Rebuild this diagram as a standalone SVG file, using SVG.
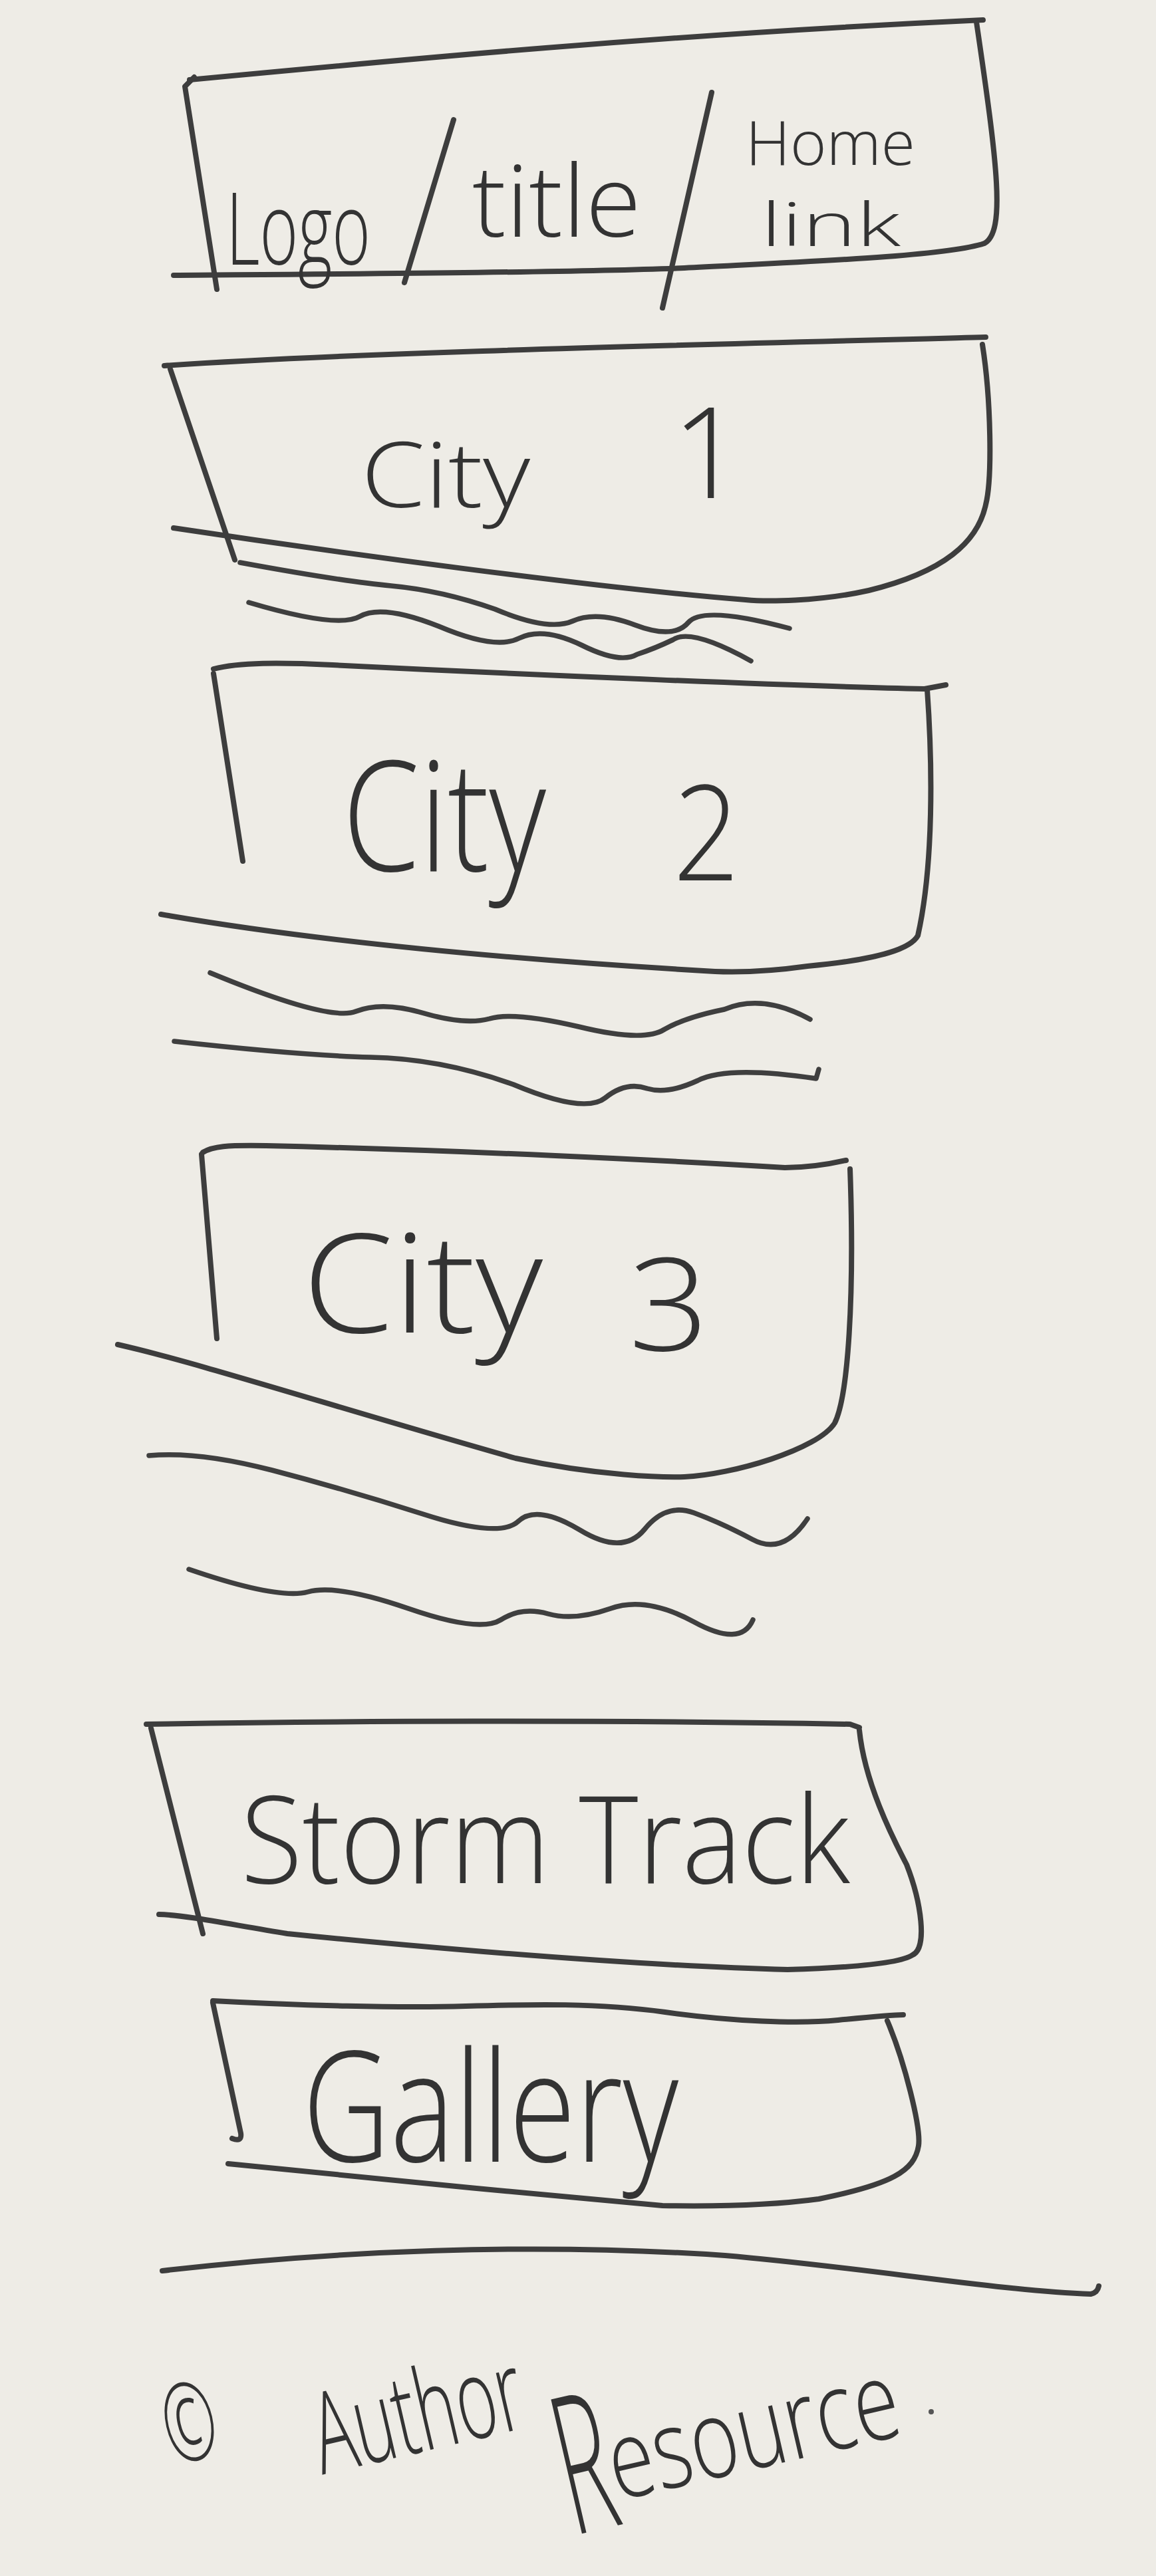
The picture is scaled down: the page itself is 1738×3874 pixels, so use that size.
<svg xmlns="http://www.w3.org/2000/svg" width="1738" height="3874" viewBox="0 0 1738 3874">
<style>
.ln{fill:none;stroke:#3d3d3d;stroke-width:8;stroke-linecap:round;stroke-linejoin:round}
.wv{fill:none;stroke:#3f3f3f;stroke-width:7.5;stroke-linecap:round;stroke-linejoin:round}
.tx{font-family:"Open Sans","Liberation Sans",sans-serif;font-weight:300;fill:#333333}
</style>
<rect x="0" y="0" width="1738" height="3874" fill="#eeece6"/>
<g id="header">
<path class="ln" d="M285,120 C600,90 1000,52 1478,30"/>
<path class="ln" d="M292,116 L278,130 L326,435"/>
<path class="ln" d="M261,414 C500,412 850,410 1029,403 C1200,394 1420,386 1480,366 C1512,348 1500,250 1468,33"/>
<path class="ln" d="M682,180 L608,425"/>
<path class="ln" d="M1070,139 L996,463"/>
<text class="tx" x="340" y="398" font-size="152" textLength="217" lengthAdjust="spacingAndGlyphs">Logo</text>
<text class="tx" x="710" y="356" font-size="150" textLength="254" lengthAdjust="spacingAndGlyphs">title</text>
<text class="tx"><tspan x="1121" y="248" font-size="92" textLength="255" lengthAdjust="spacingAndGlyphs">Home</tspan> <tspan x="1144" y="370" font-size="90" textLength="210" lengthAdjust="spacingAndGlyphs">link</tspan></text>
</g>
<g id="city1">
<path class="ln" d="M247,550 C500,532 900,522 1482,507"/>
<path class="ln" d="M256,555 L353,842"/>
<path class="ln" d="M1477,518 C1490,600 1492,720 1482,759 C1470,815 1420,860 1306,888 C1230,905 1150,905 1121,902 C900,885 500,830 261,794"/>
<path class="wv" d="M361,846 Q513,874 588,881 Q664,888 744,916 Q825,950 861,934 Q897,918 955,940 Q1013,962 1035,936 Q1057,910 1187,945"/>
<path class="wv" d="M374,906 Q508,946 541,927 Q575,908 660,942 Q745,978 780,960 Q816,942 874,970 Q932,999 958,984 Q985,975 1012,962 Q1039,944 1129,994"/>
<text class="tx" font-size="136"><tspan x="543" y="763" textLength="254" lengthAdjust="spacingAndGlyphs">City</tspan> <tspan x="1010" y="749" font-size="190">1</tspan></text>
</g>
<g id="city2">
<path class="ln" d="M321,1006 C360,996 420,996 500,1000 C800,1015 1200,1032 1390,1036 L1422,1030"/>
<path class="ln" d="M321,1013 L365,1295"/>
<path class="ln" d="M1394,1037 C1402,1150 1404,1300 1380,1407 C1370,1425 1330,1442 1214,1453 C1150,1462 1100,1462 1075,1461 C800,1445 500,1420 242,1375"/>
<path class="wv" d="M316,1463 Q495,1537 535,1521 Q575,1505 638,1524 Q700,1542 736,1532 Q772,1521 870,1544 Q968,1568 999,1548 Q1030,1530 1089,1518 Q1147,1494 1218,1533"/>
<path class="wv" d="M262,1566 Q450,1587 557,1590 Q664,1592 772,1631 Q879,1676 910,1651 Q941,1626 973,1637 Q1004,1646 1049,1625 Q1093,1602 1227,1622 L1231,1608"/>
<text class="tx" font-size="230"><tspan x="515" y="1310" textLength="306" lengthAdjust="spacingAndGlyphs">City</tspan> <tspan x="1012" y="1324" font-size="200" textLength="100" lengthAdjust="spacingAndGlyphs">2</tspan></text>
</g>
<g id="city3">
<path class="ln" d="M305,1733 C320,1724 340,1722 400,1723 C700,1730 1000,1745 1180,1756 C1220,1756 1250,1750 1272,1745"/>
<path class="ln" d="M303,1736 L326,2013"/>
<path class="ln" d="M177,2022 C300,2050 500,2115 775,2193 C900,2220 1000,2222 1029,2221 C1100,2218 1230,2180 1255,2140 C1275,2100 1285,1950 1278,1758"/>
<path class="wv" d="M224,2189 Q298,2182 409,2211 Q520,2240 636,2277 Q751,2314 779,2288 Q807,2262 872,2301 Q936,2340 969,2300 Q1001,2260 1043,2275 Q1084,2290 1131,2315 Q1177,2340 1214,2284"/>
<path class="wv" d="M284,2360 Q418,2406 463,2394 Q507,2382 614,2419 Q721,2456 753,2436 Q784,2416 824,2427 Q864,2438 918,2419 Q971,2400 1043,2439 Q1114,2478 1132,2436"/>
<text class="tx" font-size="207"><tspan x="455" y="2004" textLength="361" lengthAdjust="spacingAndGlyphs">City</tspan> <tspan x="945" y="2031" font-size="193" textLength="121" lengthAdjust="spacingAndGlyphs">3</tspan></text>
</g>
<g id="storm-track">
<path class="ln" d="M220,2593 C500,2588 900,2586 1278,2593 L1292,2598"/>
<path class="ln" d="M227,2599 L305,2908"/>
<path class="ln" d="M1292,2602 C1300,2680 1340,2760 1363,2804 C1385,2860 1395,2930 1372,2940 C1350,2955 1250,2960 1184,2962 C900,2955 500,2915 432,2908 C350,2895 280,2880 239,2879"/>
<text class="tx" x="362" y="2832" font-size="183" textLength="916" lengthAdjust="spacingAndGlyphs">Storm Track</text>
</g>
<g id="gallery">
<path class="ln" d="M320,3009 C450,3016 600,3020 700,3017 C800,3014 900,3012 1000,3026 C1100,3040 1200,3044 1260,3038 C1300,3034 1340,3030 1358,3030"/>
<path class="ln" d="M320,3012 L362,3208 Q364,3222 349,3216"/>
<path class="ln" d="M1334,3039 C1360,3100 1385,3200 1381,3227 C1375,3265 1340,3285 1231,3307 C1150,3318 1050,3318 996,3317 C800,3300 500,3270 343,3254"/>
<text class="tx" x="455" y="3251" font-size="231" textLength="565" lengthAdjust="spacingAndGlyphs">Gallery</text>
</g>
<g id="footer">
<path class="ln" d="M244,3415 C500,3385 800,3372 1090,3392 C1300,3410 1500,3445 1640,3450 Q1650,3448 1652,3438"/>
<text class="tx" transform="rotate(-13 870 3760)"><tspan x="286" y="3572" font-size="165" textLength="80" lengthAdjust="spacingAndGlyphs">©</tspan> <tspan x="503" y="3636" font-size="170" textLength="320" lengthAdjust="spacingAndGlyphs">Author</tspan> <tspan x="850" y="3810" font-size="290" textLength="80" lengthAdjust="spacingAndGlyphs">R</tspan><tspan x="926" y="3774" font-size="165" textLength="445" lengthAdjust="spacingAndGlyphs">esource</tspan></text>
<circle cx="1400" cy="3627" r="4" fill="#555555"/>
</g>
</svg>
